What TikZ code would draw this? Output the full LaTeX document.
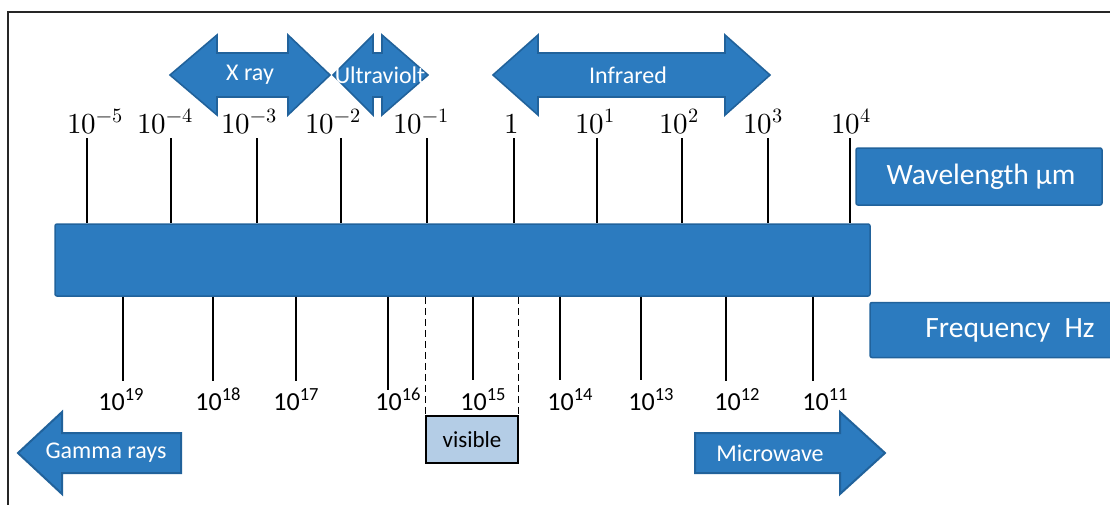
\documentclass[tikz,border=0pt]{standalone}
\usepackage{fontspec}
\usepackage{unicode-math}
\setmainfont{Carlito}
\setmathfont{Latin Modern Math}
\definecolor{bfill}{HTML}{2C7BBF}
\definecolor{bdraw}{HTML}{21629B}
\definecolor{vfill}{HTML}{B4CDE6}
\newcommand{\pwr}[1]{10\raisebox{0.36em}{\fontsize{18.5}{18}\selectfont #1}}
\newcommand{\dblarr}[8]{%
  \draw[arrshape] ({#2},{#6}) -- ({#3},{#6-#8}) -- ({#3},{#6-#7}) -- ({#4},{#6-#7}) -- ({#4},{#6-#8}) -- ({#5},{#6})
   -- ({#4},{#6+#8}) -- ({#4},{#6+#7}) -- ({#3},{#6+#7}) -- ({#3},{#6+#8}) -- cycle;
  \node[arrlab] (#1) at ({(#2+#5)/2},{#6}) {};}
\begin{document}
\begin{tikzpicture}[x=1pt,y=-1pt,
  barbox/.style={draw=bdraw,fill=bfill,line width=1.5pt,rounded corners=2pt,inner sep=0pt},
  arrshape/.style={draw=bdraw,fill=bfill,line width=1.6pt,line join=miter},
  arrlab/.style={inner sep=0pt,text=white,font=\fontsize{24}{28}\selectfont},
  boxlab/.style={inner sep=0pt,text=white,font=\fontsize{29.5}{32}\selectfont},
  tickline/.style={line width=1.3pt,black},
  toplab/.style={anchor=base,inner sep=0pt,font=\fontsize{29}{32}\selectfont},
  botlab/.style={anchor=base,inner sep=0pt,font=\fontsize{26}{30}\selectfont},
]
\useasboundingbox (0,0) rectangle (1110,504);
% frame
\draw[line width=1.6pt,black!85] (8,506) -- (8,12) -- (1112,12);

% top double arrows
\dblarr{xray}{170}{217}{288}{330}{75}{22}{40}
\dblarr{uv}{333}{373}{382}{428}{75}{22}{40}
\dblarr{ir}{493}{538}{725}{770}{75}{22}{40}
\node[arrlab] (xrayt) at (250,75) {X ray};
\node[arrlab] (uvt) at (380,75) {Ultraviolt};
\node[arrlab] (irt) at (628,75) {Infrared};

% main bar
\node[barbox,minimum width=815pt,minimum height=72pt] (bar) at (462.5,260) {};

% side boxes
\node[barbox,minimum width=246pt,minimum height=57pt] (wl) at (979,176.5) {};
\node[boxlab] (wlt) at (981,177) {Wavelength µm};
\begin{scope}
\clip (0,0) rectangle (1110,504);
\node[barbox,minimum width=270pt,minimum height=55pt] (fr) at (1005,330) {};
\end{scope}
\node[boxlab] (frt) at (1010,330) {Frequency\hspace{0.25em} Hz};

% top ticks and labels
\foreach \x [count=\i] in {87,171,257,341,427,514,597,682,768,850} {
  \coordinate (tt\i) at (\x,138);
  \draw[tickline] (tt\i) -- (tt\i |- bar.north);
}
\foreach \x/\e [count=\i] in {95/-5,165/-4,249/-3,333/-2,421/-1} {
  \node[toplab] (tl\i) at (\x,133) {$10^{\e}$};
}
\node[toplab] (tl6) at (512,133) {$1$};
\foreach \x/\e [count=\i from 7] in {595/1,679/2,763/3,851/4} {
  \node[toplab] (tl\i) at (\x,133) {$10^{\e}$};
}

% bottom ticks and labels
\foreach \x/\yb [count=\i] in {123/381,213/381,296/381,388/390,473/380,560/380,641/380,726/381,813/381} {
  \coordinate (bt\i) at (\x,\yb);
  \draw[tickline] (bt\i |- bar.south) -- (bt\i);
}
\foreach \x/\e [count=\i] in {121/19,218/18,296/17,398/16,483/15,570/14,651/13,737/12,825/11} {
  \node[botlab] (bl\i) at (\x,410) {\pwr{\e}};
}

% visible box and dashed lines
\node[draw=black,fill=vfill,line width=1.3pt,minimum width=92pt,minimum height=47pt,inner sep=0pt,
  font=\fontsize{23}{26}\selectfont] (vis) at (472,439.5) {visible};
\draw[tickline,line width=1.5pt,dash pattern=on 7pt off 4pt] (vis.north west |- bar.south) -- (vis.north west);
\draw[tickline,line width=1.5pt,dash pattern=on 7pt off 4pt] (vis.north east |- bar.south) -- (vis.north east);

% gamma rays arrow (left)
\draw[arrshape,line width=2pt] (18,453) -- (62,412) -- (62,433) -- (181,433) -- (181,473) -- (62,473) -- (62,494) -- cycle;
\node[arrlab] (gam) at (106,453) {Gamma rays};

% microwave arrow (right)
\draw[arrshape,line width=2pt] (695,433) -- (840,433) -- (840,412) -- (885,453) -- (840,494) -- (840,473) -- (695,473) -- cycle;
\node[arrlab] (mw) at (770,453) {Microwave};
\end{tikzpicture}
\end{document}
